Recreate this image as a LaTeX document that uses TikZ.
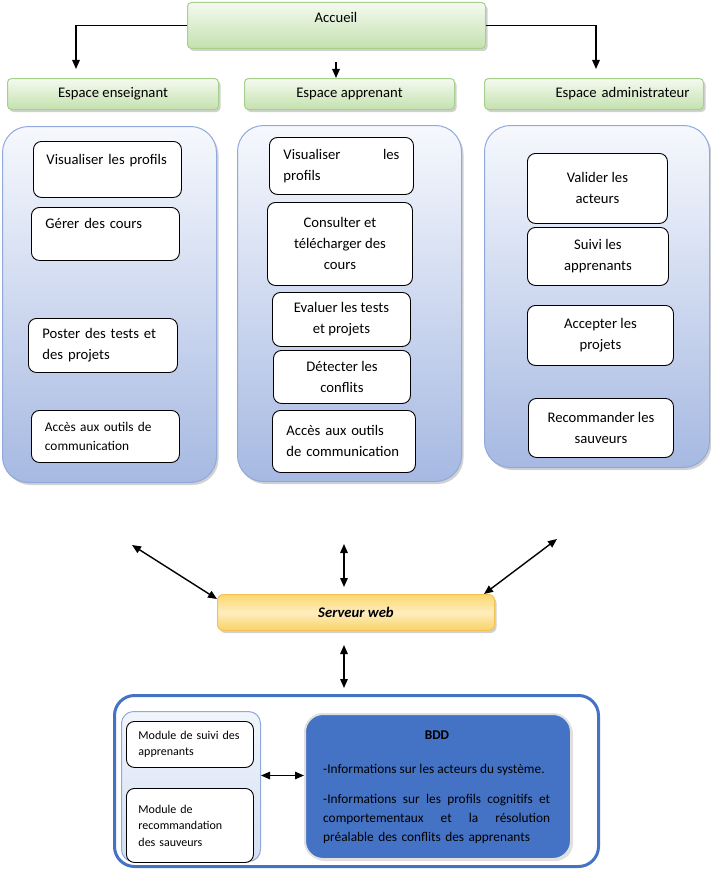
\documentclass[tikz,border=0pt]{standalone}
\usepackage{fontspec}
\setmainfont{Carlito}
\usetikzlibrary{arrows.meta,shadows,calc}
\definecolor{grline}{HTML}{A8D08D}
\definecolor{grtop}{HTML}{F5FAF0}
\definecolor{grbot}{HTML}{C3E1AE}
\definecolor{colline}{HTML}{8FA9DB}
\definecolor{coltop}{HTML}{F6F8FD}
\definecolor{colbot}{HTML}{A6B9E2}
\definecolor{goldline}{HTML}{F2C255}
\definecolor{goldtop}{HTML}{FBD870}
\definecolor{goldmid}{HTML}{FEEDBE}
\definecolor{goldbot}{HTML}{F9D266}
\definecolor{bddblue}{HTML}{4472C4}
\definecolor{pantop}{HTML}{F1F5FC}
\definecolor{panbot}{HTML}{D3DEF2}
\newcommand\fBody{\fontsize{14.67}{21}\selectfont}
\newcommand\fSmall{\fontsize{13.33}{18.5}\selectfont}
\newcommand\fMod{\fontsize{12}{16.5}\selectfont}
\newcommand\fBdd{\fontsize{13.33}{19}\selectfont}
\tikzset{
  shad/.style={drop shadow={opacity=0.3,shadow xshift=2pt,shadow yshift=-2.5pt,fill=black!60}},
  greenbox/.style={draw=grline,line width=1pt,top color=grtop,bottom color=grbot,rounded corners=4pt,anchor=north west,shad,font=\fBody,inner xsep=14pt},
  column/.style={draw=colline,line width=1pt,top color=coltop,bottom color=colbot,rounded corners=26pt,anchor=north west,shad},
  cell/.style={draw=black,line width=0.9pt,fill=white,rounded corners=8pt,anchor=north west,inner xsep=14pt,inner ysep=2pt,font=\fBody,align=center},
  arr/.style={line width=1.4pt,-{Triangle[length=9pt,width=7.5pt]}},
  dbl/.style={line width=1.4pt,{Triangle[length=9pt,width=7.5pt]}-{Triangle[length=9pt,width=7.5pt]}},
}
\begin{document}
\begin{tikzpicture}[x=1pt,y=-1pt]
\useasboundingbox (0,0) rectangle (711,875);

% top
\node[greenbox,minimum width=298,minimum height=46] (acc) at (187,2) {};
\node[font=\fBody] (acct) at (336,17) {Accueil};
\node[greenbox,minimum width=211,minimum height=31] (es1) at (7,78) {Espace enseignant};
\node[greenbox,minimum width=210,minimum height=31] (es2) at (244,78) {Espace apprenant};
\node[greenbox,minimum width=219,minimum height=31,text width=191,align=right] (es3) at (484,78) {Espace administrateur};

\coordinate (aL) at (76,69);
\coordinate (aR) at (596,69);
\coordinate (aM) at (336,62);
\draw[arr] (acc.west) -| (aL);
\draw[arr] (acc.east) -| (aR);
\draw[arr] (aM) -- (aM |- es2.north);

% columns
\node[column,minimum width=214,minimum height=356] (c1) at (2,126) {};
\node[column,minimum width=224,minimum height=356] (c2) at (237,125) {};
\node[column,minimum width=225,minimum height=342] (c3) at (484,125) {};

% left column
\node[cell,minimum width=148,minimum height=56,text width=122,inner xsep=13pt,align=left] (l1) at (33,141) {\mbox{Visualiser les profils}\\\mbox{}};
\node[cell,minimum width=148,minimum height=53,text width=120,align=left] (l2) at (31,207) {\mbox{Gérer des cours}\\\mbox{}};
\node[cell,minimum width=149,minimum height=54,text width=121,align=left] (l3) at (28,318) {\mbox{Poster des tests et}\\\mbox{des projets}};
\node[cell,minimum width=148,minimum height=52,text width=121,align=left,font=\fSmall,inner xsep=13pt] (l4) at (31,410) {\mbox{Accès aux outils de}\\\mbox{communication}};

% middle column
\node[cell,minimum width=144,minimum height=57,text width=116,align=left] (m1) at (269,137) {Visualiser\hfill les\\profils};
\node[cell,minimum width=145,minimum height=83] (m2) at (267,202) {Consulter et\\télécharger des\\cours};
\node[cell,minimum width=138,minimum height=54] (m3) at (272,292) {Evaluer les tests\\et projets};
\node[cell,minimum width=137,minimum height=53] (m4) at (273,350) {Détecter les\\conflits};
\node[cell,minimum width=143,minimum height=62,text width=115,align=left] (m5) at (272,410) {\mbox{Accès aux outils}\\\mbox{de communication}};

% right column
\node[cell,minimum width=140,minimum height=70] (r1) at (527,153) {Valider les\\acteurs};
\node[cell,minimum width=141,minimum height=58] (r2) at (527,227) {Suivi les\\apprenants};
\node[cell,minimum width=146,minimum height=60] (r3) at (527,305) {Accepter les\\projets};
\node[cell,minimum width=145,minimum height=59] (r4) at (528,398) {Recommander les\\sauveurs};

% server
\node[draw=goldline,line width=1pt,top color=goldtop,bottom color=goldbot,middle color=goldmid,rounded corners=6pt,anchor=north west,shad,minimum width=277,minimum height=36,font=\fBody\bfseries\itshape] (srv) at (217,594) {Serveur web};

\coordinate (s1) at (132,545);
\coordinate (s3) at (557,539);
\coordinate (s2a) at (344,544);
\coordinate (s2b) at (344,587);
\coordinate (s4a) at (344,645);
\coordinate (s4b) at (344,688);
\draw[dbl] (s1) -- ($(srv.north west)+(0,5)$);
\draw[dbl] (s3) -- ($(srv.north east)+(-11,0)$);
\draw[dbl] (s2a) -- (s2b);
\draw[dbl] (s4a) -- (s4b);

% bottom
\node[draw=bddblue,line width=3pt,fill=white,rounded corners=20pt,anchor=north west,minimum width=484,minimum height=171] (outer) at (113,694) {};
\node[draw=colline,line width=1pt,top color=pantop,bottom color=panbot,rounded corners=12pt,anchor=north west,minimum width=139,minimum height=150] (lp) at (121,711) {};
\node[cell,minimum width=127,minimum height=46,text width=103,align=left,font=\fMod,inner xsep=12pt] (md1) at (126,721) {\mbox{Module de suivi des}\\\mbox{apprenants}};
\node[cell,minimum width=127,minimum height=74,text width=103,align=left,font=\fMod,inner xsep=12pt] (md2) at (126,788) {\mbox{Module de}\\\mbox{recommandation}\\\mbox{des sauveurs}};
\node[fill=bddblue,draw=black!12,line width=2pt,rounded corners=18pt,anchor=north west,minimum width=266,minimum height=145,drop shadow={opacity=0.25,shadow xshift=2pt,shadow yshift=-2pt}] (bdd) at (304,713) {};
\node[font=\fBdd\bfseries] (bddt) at (437,735) {BDD};
\node[font=\fBdd,anchor=west,inner sep=0pt] (bdd1) at (323,770) {-Informations sur les acteurs du système.};
\node[font=\fBdd,anchor=north west,inner sep=0pt,text width=227,align=left] (bdd2) at (323,794) {-Informations\hfill sur\hfill les\hfill profils\hfill cognitifs\hfill et\\comportementaux\hfill et\hfill la\hfill résolution\\préalable des conflits des apprenants};

\coordinate (ba) at ($(lp.east)+(0,-11)$);
\draw[dbl] (ba) -- (ba -| bdd.west);
\end{tikzpicture}
\end{document}
